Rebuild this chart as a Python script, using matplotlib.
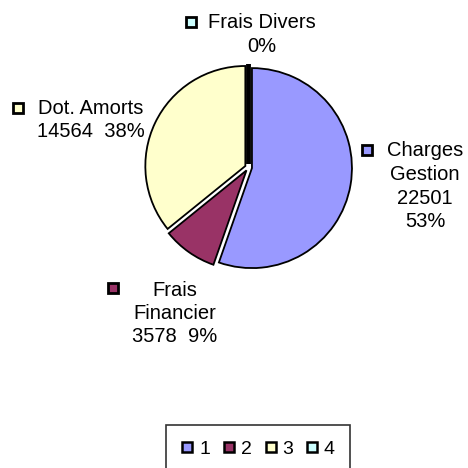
import matplotlib.pyplot as plt
from matplotlib.lines import Line2D

# data
categories = ["Charges Gestion", "Frais Financier", "Dot. Amorts", "Frais Divers"]
values = [22501, 3578, 14564, 0]
pct_text = ["53%", "9%", "38%", "0%"]
legend_labels = ["1", "2", "3", "4"]
colors = ["#9999FF", "#993366", "#FFFFCC", "#CCFFFF"]

# label text, line by line
label_lines = [
    ["Charges", "Gestion", str(values[0]), pct_text[0]],
    ["Frais", "Financier", str(values[1]) + "  " + pct_text[1]],
    ["Dot. Amorts", str(values[2]) + "  " + pct_text[2]],
    ["Frais Divers", pct_text[3]],
]
# layout in pixel coords (x center of text, y of first line, marker x, marker y)
label_pos = [
    (425, 151, 367, 150),
    (175, 290, 113, 288),
    (91, 108, 18, 108),
    (262, 23, 191, 22),
]
line_step = 23.5

plt.rcParams['font.family'] = ['Liberation Sans', 'DejaVu Sans']

fig = plt.figure(figsize=(4.68, 4.68), dpi=100)
ax = fig.add_axes([0, 0, 1, 1])

# explode is in data units here (radius is 100)
wedges, _ = ax.pie(values, colors=colors, startangle=-90, counterclock=True,
                   center=(248.5, 167.5), radius=100, explode=[3.5] * 4,
                   wedgeprops=dict(edgecolor='black', linewidth=1.3),
                   frame=True)
wedges[3].set_linewidth(3.5)
ax.set_xlim(0, 468)
ax.set_ylim(468, 0)
ax.axis('off')

for i, lines in enumerate(label_lines):
    tx, ty, mx, my = label_pos[i]
    ax.plot(mx, my, marker='s', markersize=7.5, markerfacecolor=colors[i],
            markeredgecolor='black', markeredgewidth=2)
    for j, line in enumerate(lines):
        ax.text(tx, ty + j * line_step, line, ha='center', va='center',
                fontsize=14.5)

handles = [Line2D([], [], linestyle='none', marker='s', markersize=7,
                  markerfacecolor=c, markeredgecolor='black', markeredgewidth=1.8)
           for c in colors]
leg = fig.legend(handles, legend_labels, loc='upper left',
                 bbox_to_anchor=(166 / 468, 1 - 425 / 468), ncol=4,
                 fontsize=14, frameon=True, fancybox=False, handlelength=0.6,
                 handletextpad=0.3, columnspacing=0.68, borderpad=0.8,
                 borderaxespad=0)
leg.get_frame().set_edgecolor('black')
leg.get_frame().set_linewidth(1.2)

fig.savefig('out.png', dpi=100)
